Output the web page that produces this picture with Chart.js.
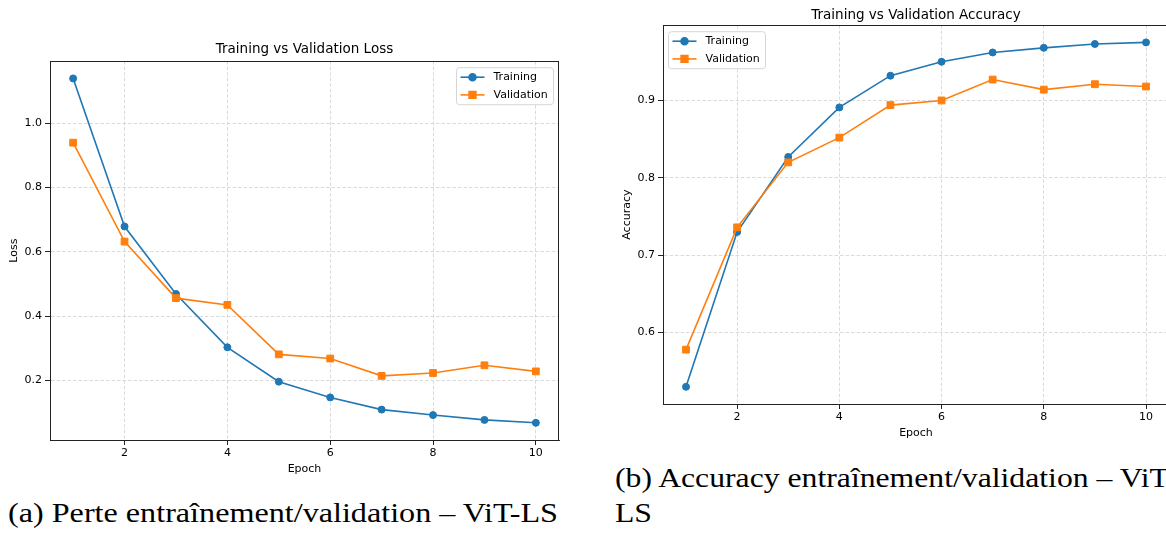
<!DOCTYPE html>
<html>
<head>
<meta charset="utf-8">
<script src="https://cdn.jsdelivr.net/npm/chart.js@4.4.1/dist/chart.umd.min.js"></script>
<style>
  html, body { margin: 0; padding: 0; background: #fff; }
  body { width: 1166px; height: 533px; overflow: hidden; position: relative; }
  .box { position: absolute; }
  #lossBox { left: 0; top: 0; width: 580px; height: 490px; }
  #accBox { left: 600px; top: 0; width: 580px; height: 460px; }
  .caption {
    position: absolute; font-family: "Liberation Serif", serif; font-size: 27px;
    line-height: 35px; color: #000; white-space: nowrap; transform-origin: 0 0;
  }
  #capA { left: 8px; top: 496px; }
  #capB { left: 615px; top: 461px; }
</style>
</head>
<body>
<div class="box" id="lossBox"><canvas id="lossChart"></canvas></div>
<div class="box" id="accBox"><canvas id="accChart"></canvas></div>
<div class="caption" id="capA"><span>(a) Perte entraînement/validation – ViT-LS</span></div>
<div class="caption" id="capB"><span>(b) Accuracy entraînement/validation – ViT</span>-<br>LS</div>
<script>
// valeurs
const epochs = [1, 2, 3, 4, 5, 6, 7, 8, 9, 10];
const lossTraining = [1.140, 0.679, 0.469, 0.303, 0.196, 0.147, 0.109, 0.092, 0.077, 0.068];
const lossValidation = [0.940, 0.632, 0.456, 0.435, 0.281, 0.268, 0.214, 0.223, 0.247, 0.228];
const accTraining = [0.530, 0.730, 0.827, 0.891, 0.932, 0.950, 0.962, 0.968, 0.973, 0.975];
const accValidation = [0.578, 0.736, 0.820, 0.852, 0.894, 0.900, 0.927, 0.914, 0.921, 0.918];

const xTicks = [2, 4, 6, 8, 10];
const lossTicks = [0.2, 0.4, 0.6, 0.8, 1.0];
const accTicks = [0.6, 0.7, 0.8, 0.9];

const BLUE = '#1f77b4';
const ORANGE = '#ff7f0e';

Chart.defaults.font.family = '"DejaVu Sans", sans-serif';
Chart.defaults.font.size = 11;
Chart.defaults.color = '#000';

// marge de 5% comme matplotlib
function autoRange(values) {
    const lo = Math.min(...values);
    const hi = Math.max(...values);
    const m = (hi - lo) * 0.05;
    return [lo - m, hi + m];
}

function points(values) {
    return epochs.map((e, i) => ({ x: e, y: values[i] }));
}

const framePlugin = {
    id: 'frame',
    afterDraw(chart) {
        const { ctx, chartArea: a } = chart;
        ctx.save();
        ctx.strokeStyle = '#222';
        ctx.lineWidth = 1;
        ctx.strokeRect(Math.round(a.left) + 0.5, Math.round(a.top) + 0.5,
            Math.round(a.right - a.left) - 1, Math.round(a.bottom - a.top));
        ctx.restore();
    }
};

const insideLegend = {
    id: 'insideLegend',
    afterDraw(chart, args, opts) {
        const { ctx, chartArea: a } = chart;
        const w = 97, h = 37;
        const x = opts.side === 'right' ? a.right - 6 - w : a.left + 5;
        const y = a.top + 6;
        ctx.save();
        ctx.beginPath();
        ctx.roundRect(x + 0.5, y + 0.5, w, h, 3);
        ctx.fillStyle = 'rgba(255,255,255,0.8)';
        ctx.fill();
        ctx.strokeStyle = '#d5d5d5';
        ctx.lineWidth = 1;
        ctx.stroke();
        chart.data.datasets.forEach((ds, i) => {
            const cy = y + 10 + i * 17.7;
            ctx.strokeStyle = ds.borderColor;
            ctx.fillStyle = ds.borderColor;
            ctx.lineWidth = ds.borderWidth;
            ctx.beginPath();
            ctx.moveTo(x + 4.5, cy);
            ctx.lineTo(x + 28.5, cy);
            ctx.stroke();
            Chart.helpers.drawPoint(ctx, {
                pointStyle: ds.pointStyle, radius: ds.pointRadius, rotation: 0, borderWidth: 1
            }, x + 16.5, cy);
            ctx.fillStyle = '#000';
            ctx.font = '11px "DejaVu Sans"';
            ctx.textBaseline = 'middle';
            ctx.fillText(ds.label, x + 37.5, cy);
        });
        ctx.restore();
    }
};

function makeChart(id, cfg) {
    const [lo, hi] = autoRange(cfg.train.concat(cfg.val));
    const tickList = (list) => (scale) => { scale.ticks = list.map(v => ({ value: v })); };
    return new Chart(document.getElementById(id), {
        type: 'line',
        data: {
            datasets: [
                {
                    label: 'Training', data: points(cfg.train), order: 1,
                    borderColor: BLUE, backgroundColor: BLUE, borderWidth: 1.6,
                    pointStyle: 'circle', pointRadius: 3.5, pointBorderWidth: 1
                },
                {
                    label: 'Validation', data: points(cfg.val), order: 0,
                    borderColor: ORANGE, backgroundColor: ORANGE, borderWidth: 1.6,
                    pointStyle: 'rect', pointRadius: 4.8, pointBorderWidth: 1
                }
            ]
        },
        options: {
            responsive: true,
            maintainAspectRatio: false,
            animation: false,
            layout: { padding: cfg.padding },
            plugins: {
                legend: { display: false },
                tooltip: { enabled: false },
                title: {
                    display: true, text: cfg.title, color: '#000',
                    fullSize: false,
                    font: { size: 13.5, weight: 'normal' },
                    padding: cfg.titlePadding
                },
                insideLegend: { side: cfg.legendSide }
            },
            scales: {
                x: {
                    type: 'linear', min: 0.55, max: 10.45,
                    afterBuildTicks: tickList(xTicks),
                    afterFit: (s) => { s.height = 38; },
                    ticks: { padding: 2, autoSkip: false, maxRotation: 0, callback: v => String(v) },
                    grid: {
                        color: '#d0d0d0', lineWidth: 0.8, tickLength: 5,
                        tickColor: '#222', tickWidth: 1, tickBorderDash: []
                    },
                    border: { color: '#222', dash: [3.5, 2] },
                    title: { display: true, text: 'Epoch', padding: { top: 0, bottom: 2.4 } }
                },
                y: {
                    type: 'linear', min: lo, max: hi,
                    afterBuildTicks: tickList(cfg.yTicks),
                    afterFit: (s) => { s.width = cfg.yWidth; },
                    ticks: { padding: 3, autoSkip: false, callback: v => v.toFixed(1) },
                    grid: {
                        color: '#d0d0d0', lineWidth: 0.8, tickLength: 5,
                        tickColor: '#222', tickWidth: 1, tickBorderDash: []
                    },
                    border: { color: '#222', dash: [3.5, 2] },
                    title: { display: true, text: cfg.yLabel, padding: { top: cfg.yTitlePad, bottom: 0 } }
                }
            }
        },
        plugins: [framePlugin, insideLegend]
    });
}

makeChart('lossChart', {
    title: 'Training vs Validation Loss', yLabel: 'Loss',
    train: lossTraining, val: lossValidation, yTicks: lossTicks,
    padding: { left: 0, right: 21, top: 0, bottom: 12 },
    titlePadding: { top: 41, bottom: 4 },
    yWidth: 50, yTitlePad: 7.4, legendSide: 'right'
});

makeChart('accChart', {
    title: 'Training vs Validation Accuracy', yLabel: 'Accuracy',
    train: accTraining, val: accValidation, yTicks: accTicks,
    padding: { left: 0, right: 11, top: 0, bottom: 18 },
    titlePadding: { top: 7, bottom: 2 },
    yWidth: 63, yTitlePad: 20.4, legendSide: 'left'
});

// la police LaTeX est plus large : on étire les légendes à la largeur d'origine
function stretchCaption(id, targetWidth) {
    const el = document.getElementById(id);
    const natural = el.querySelector('span').getBoundingClientRect().width;
    el.style.transform = 'scaleX(' + (targetWidth / natural) + ')';
}
stretchCaption('capA', 550);
stretchCaption('capB', 551);
</script>
</body>
</html>
